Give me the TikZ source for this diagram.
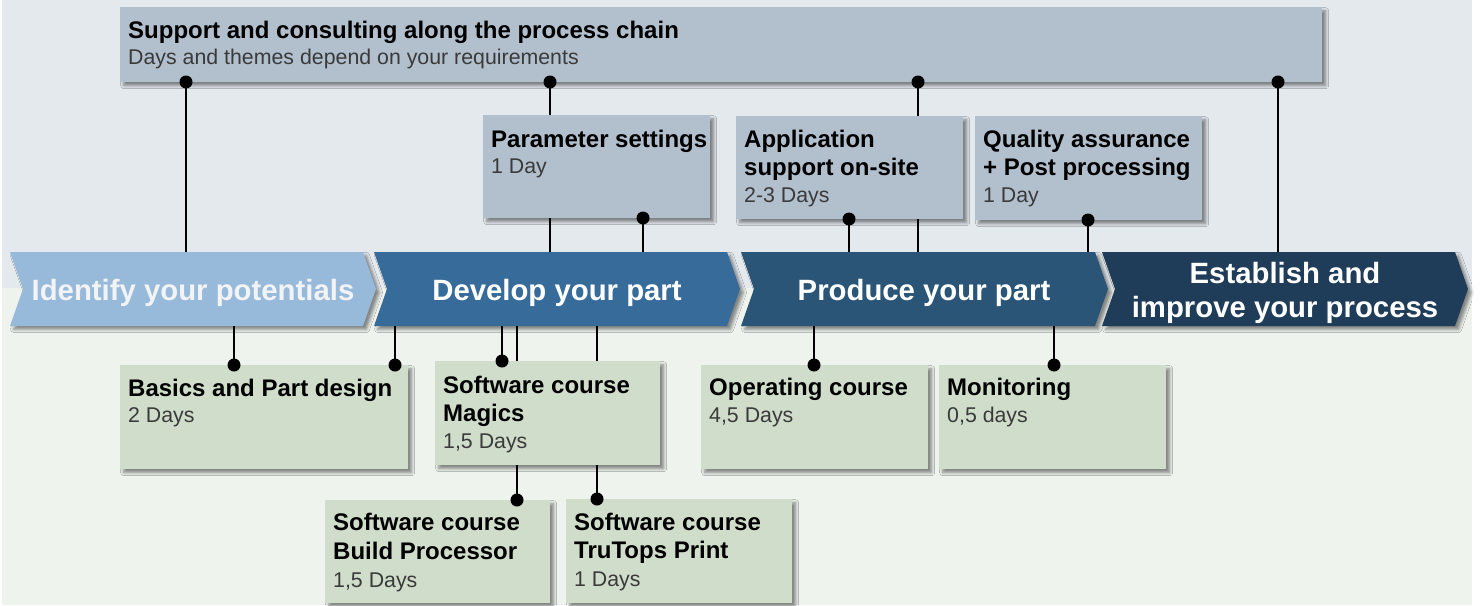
\documentclass[tikz,border=0pt]{standalone}
\usepackage{fontspec}
\setmainfont{Liberation Sans}
\usetikzlibrary{calc,shadows.blur}
\definecolor{bgtop}{HTML}{E4E9EE}
\definecolor{bgbot}{HTML}{EEF3ED}
\definecolor{boxtop}{HTML}{B2BFCD}
\definecolor{boxgreen}{HTML}{CFDDCA}
\definecolor{arrA}{HTML}{97BADB}
\definecolor{arrB}{HTML}{376C9A}
\definecolor{arrC}{HTML}{2A5577}
\definecolor{arrD}{HTML}{1F3D59}
\definecolor{subgray}{HTML}{3A3A3A}
\definecolor{arrAtxt}{HTML}{F2F3F5}
\begin{document}
\begin{tikzpicture}[x=1pt,y=-1pt,
  shd/.style={blur shadow={shadow xshift=3.5pt,shadow yshift=-3.5pt,shadow blur radius=3pt,shadow opacity=45}},
  tbox/.style={fill=boxtop,shd,inner sep=0,anchor=north west},
  gbox/.style={fill=boxgreen,shd,inner sep=0,anchor=north west},
  sz/.style 2 args={minimum width=#1pt,minimum height=#2pt},
  ttl/.style={font=\bfseries\fontsize{24}{28}\selectfont,inner sep=0,anchor=base west},
  sub/.style={font=\fontsize{21.33}{25}\selectfont,text=subgray,inner sep=0,anchor=base west},
  atext/.style={font=\bfseries\fontsize{29.33}{34}\selectfont,inner sep=0,anchor=base,text=white},
  dot/.style={circle,fill=black,inner sep=0,minimum size=13pt},
  conn/.style={line width=2.2pt},
]
\useasboundingbox (0,0) rectangle (1480,605);
% page background
\fill[bgtop] (2,0) rectangle (1472,288);
\fill[bgbot] (2,288) rectangle (1472,605);

% process arrows
\fill[arrA,shd] (10,252) -- (363,252) -- (376,289) -- (363,326) -- (10,326) -- (23,289) -- cycle;
\fill[arrB,shd] (374,252) -- (727,252) -- (740,289) -- (727,326) -- (374,326) -- (387,289) -- cycle;
\fill[arrC,shd] (741,252) -- (1095,252) -- (1108,289) -- (1095,326) -- (741,326) -- (754,289) -- cycle;
\fill[arrD,shd] (1102,252) -- (1455,252) -- (1468,289) -- (1455,326) -- (1102,326) -- (1115,289) -- cycle;
\coordinate (a1n) at (193,252); \coordinate (a1s) at (193,326);
\coordinate (a2n) at (557,252); \coordinate (a2s) at (557,326);
\coordinate (a3n) at (924,252); \coordinate (a3s) at (924,326);
\coordinate (a4n) at (1285,252); \coordinate (a4s) at (1285,326);
\node[atext,text=arrAtxt] (a1) at (193,300) {Identify your potentials};
\node[atext] (a2) at (557,300) {Develop your part};
\node[atext] (a3) at (924,300) {Produce your part};
\node[atext] (a4) at (1285,283) {Establish and};
\node[atext] (a4b) at (1285,317) {improve your process};

% boxes
\node[tbox,sz={1202}{75}] (sup) at (120,7) {};
\node[tbox,sz={227}{103}] (par) at (483,115) {};
\node[tbox,sz={227}{103}] (app) at (736,116) {};
\node[tbox,sz={227}{104}] (qual) at (975,116) {};
\node[gbox,sz={288}{104}] (bas) at (120,365) {};
\node[gbox,sz={225}{104}] (mag) at (435,361) {};
\node[gbox,sz={225}{103}] (bui) at (325,500) {};
\node[gbox,sz={226}{104}] (tru) at (566,499) {};
\node[gbox,sz={227}{104}] (ope) at (701,365) {};
\node[gbox,sz={227}{104}] (mon) at (939,365) {};

% dots
\coordinate (d1) at (186,82);
\coordinate (d2) at (550,82);
\coordinate (d3) at (918,82);
\coordinate (d4) at (1278,82);
\coordinate (dp) at (643,218);
\coordinate (da) at (849,219);
\coordinate (dq) at (1088,220);
\coordinate (db1) at (234,365);
\coordinate (db2) at (395,365);
\coordinate (dm) at (502,361);
\coordinate (dbp) at (517,500);
\coordinate (dtt) at (597,499);
\coordinate (dop) at (814,365);
\coordinate (dmo) at (1054,365);

% connectors
\draw[conn] (d1) -- (d1 |- a1n);
\draw[conn] (d2) -- (d2 |- par.north);
\draw[conn] (par.south -| d2) -- (d2 |- a2n);
\draw[conn] (d3) -- (d3 |- app.north);
\draw[conn] (app.south -| d3) -- (d3 |- a3n);
\draw[conn] (d4) -- (d4 |- a4n);
\draw[conn] (dp) -- (dp |- a2n);
\draw[conn] (da) -- (da |- a3n);
\draw[conn] (dq) -- (dq |- a3n);
\draw[conn] (db1) -- (db1 |- a1s);
\draw[conn] (db2) -- (db2 |- a2s);
\draw[conn] (dm) -- (dm |- a2s);
\draw[conn] (dbp) -- (dbp |- mag.south);
\draw[conn] (dbp |- mag.north) -- (dbp |- a2s);
\draw[conn] (dtt) -- (dtt |- mag.south);
\draw[conn] (dtt |- mag.north) -- (dtt |- a2s);
\draw[conn] (dop) -- (dop |- a3s);
\draw[conn] (dmo) -- (dmo |- a3s);

\foreach \d in {d1,d2,d3,d4,dp,da,dq,db1,db2,dm,dbp,dtt,dop,dmo}
  \node[dot] at (\d) {};

% texts
\node[ttl] (supT) at (128,38) {Support and consulting along the process chain};
\node[sub] (supS) at (128,64) {Days and themes depend on your requirements};

\node[ttl] (parT) at (491,147) {Parameter settings};
\node[sub] (parS) at (491,173) {1 Day};

\node[ttl] (appT) at (744,147) {Application};
\node[ttl] (appT2) at (744,175) {support on-site};
\node[sub] (appS) at (744,202) {2-3 Days};

\node[ttl] (qualT) at (983,147) {Quality assurance};
\node[ttl] (qualT2) at (983,175) {+ Post processing};
\node[sub] (qualS) at (983,202) {1 Day};

\node[ttl] (basT) at (128,396) {Basics and Part design};
\node[sub] (basS) at (128,422) {2 Days};

\node[ttl] (magT) at (443,393) {Software course};
\node[ttl] (magT2) at (443,421) {Magics};
\node[sub] (magS) at (443,448) {1,5 Days};

\node[ttl] (buiT) at (333,530) {Software course};
\node[ttl] (buiT2) at (333,559) {Build Processor};
\node[sub] (buiS) at (333,587) {1,5 Days};

\node[ttl] (truT) at (574,530) {Software course};
\node[ttl] (truT2) at (574,558) {TruTops Print};
\node[sub] (truS) at (574,586) {1 Days};

\node[ttl] (opeT) at (709,395) {Operating course};
\node[sub] (opeS) at (709,422) {4,5 Days};

\node[ttl] (monT) at (947,395) {Monitoring};
\node[sub] (monS) at (947,422) {0,5 days};
\end{tikzpicture}
\end{document}
